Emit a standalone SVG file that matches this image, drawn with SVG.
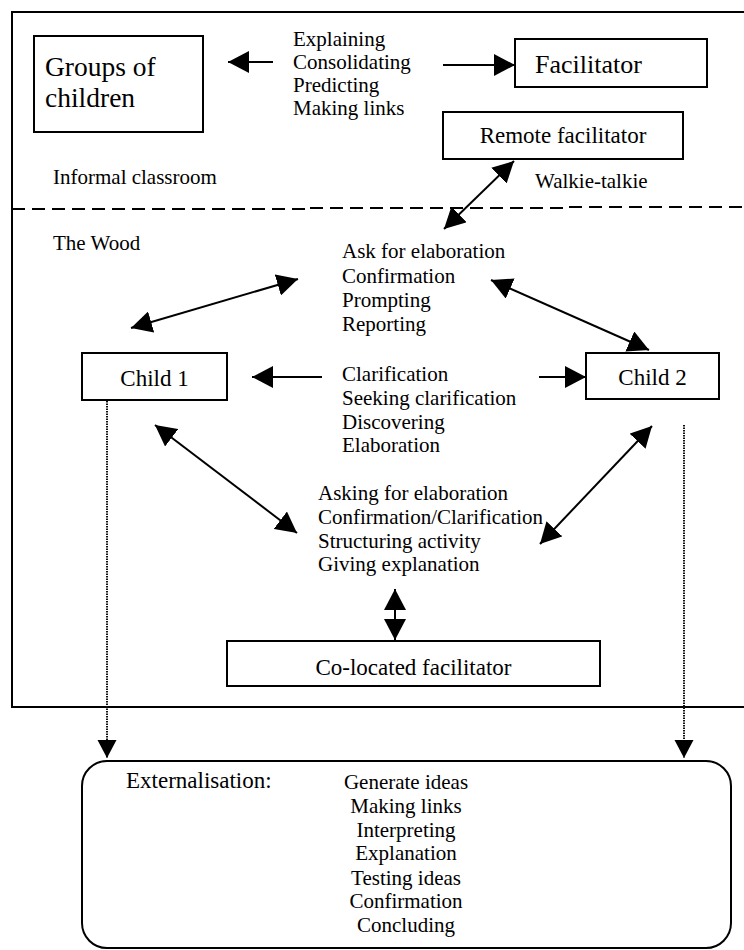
<svg xmlns="http://www.w3.org/2000/svg" width="744" height="950" viewBox="0 0 744 950">
<style>
  text { font-family: "Liberation Serif", "Times New Roman", serif; fill: #000; }
  .t21 { font-size: 21px; }
  .t23 { font-size: 23px; }
  .t26 { font-size: 26px; }
  .t28 { font-size: 27.5px; }
  .box { fill: #fff; stroke: #000; stroke-width: 2; }
  .frame { fill: none; stroke: #000; stroke-width: 2; }
  .dash { fill: none; stroke: #000; stroke-width: 2; stroke-dasharray: 13 7; }
  .arr { fill: none; stroke: #000; stroke-width: 2; }
  .one { marker-end: url(#head); }
  .two { marker-start: url(#head); marker-end: url(#head); }
  .dot { fill: none; stroke: #111; stroke-width: 2; stroke-dasharray: 1.5 1; marker-end: url(#shead); }
</style>
<defs>
  <marker id="head" markerUnits="userSpaceOnUse" markerWidth="22" markerHeight="22" refX="21" refY="11" orient="auto-start-reverse" viewBox="0 0 22 22">
    <path d="M0,0 L21,11 L0,22 z" fill="#000"/>
  </marker>
  <marker id="shead" markerUnits="userSpaceOnUse" markerWidth="20" markerHeight="20" refX="18" refY="9.5" orient="auto" viewBox="0 0 20 20">
    <path d="M0,0 L18,9.5 L0,19 z" fill="#000"/>
  </marker>
</defs>

<g id="frame">
  <path class="frame" d="M745,12 H12 V707 H745"/>
  <path class="dash" d="M12,209 H310 M310,208 H569 M569,207 H745"/>
  <text class="t21" x="53" y="184">Informal classroom</text>
  <text class="t21" x="53" y="250">The Wood</text>
</g>

<g id="groups">
  <rect class="box" x="34" y="36" width="169" height="96"/>
  <text class="t28" x="45" y="76">Groups of</text>
  <text class="t28" x="45" y="107">children</text>
</g>

<g id="facilitator">
  <rect class="box" x="515" y="39" width="192" height="48"/>
  <text class="t26" x="535" y="73">Facilitator</text>
</g>

<g id="remote">
  <rect class="box" x="443" y="112" width="240" height="47"/>
  <text class="t23" x="563" y="143" text-anchor="middle">Remote facilitator</text>
</g>

<g id="child1">
  <rect class="box" x="82" y="353" width="145" height="47"/>
  <text class="t23" x="154.5" y="386" text-anchor="middle">Child 1</text>
</g>

<g id="child2">
  <rect class="box" x="586" y="353" width="133" height="46"/>
  <text class="t23" x="652.5" y="385" text-anchor="middle">Child 2</text>
</g>

<g id="colocated">
  <rect class="box" x="227" y="641" width="373" height="45"/>
  <text class="t23" x="413.5" y="675" text-anchor="middle">Co-located facilitator</text>
</g>

<g id="externalisation">
  <rect class="box" x="82" y="761" width="649" height="187" rx="25" ry="25"/>
  <text class="t23" x="126" y="788">Externalisation:</text>
  <g class="t21" text-anchor="middle">
    <text x="406" y="789">Generate ideas</text>
    <text x="406" y="813">Making links</text>
    <text x="406" y="837">Interpreting</text>
    <text x="406" y="860">Explanation</text>
    <text x="406" y="885">Testing ideas</text>
    <text x="406" y="908">Confirmation</text>
    <text x="406" y="932">Concluding</text>
  </g>
</g>

<g id="labels" class="t21">
  <text x="293" y="46">Explaining</text>
  <text x="293" y="69">Consolidating</text>
  <text x="293" y="92">Predicting</text>
  <text x="293" y="115">Making links</text>
  <text x="535" y="188">Walkie-talkie</text>
  <text x="342" y="258">Ask for elaboration</text>
  <text x="342" y="283">Confirmation</text>
  <text x="342" y="307">Prompting</text>
  <text x="342" y="331">Reporting</text>
  <text x="342" y="381">Clarification</text>
  <text x="342" y="405">Seeking clarification</text>
  <text x="342" y="429">Discovering</text>
  <text x="342" y="452">Elaboration</text>
  <text x="318" y="500">Asking for elaboration</text>
  <text x="318" y="524">Confirmation/Clarification</text>
  <text x="318" y="548">Structuring activity</text>
  <text x="318" y="571">Giving explanation</text>
</g>

<g id="connectors">
  <line class="arr one" x1="273" y1="62" x2="228" y2="62"/>
  <line class="arr one" x1="443" y1="65" x2="515" y2="65"/>
  <line class="arr two" x1="514" y1="161" x2="444" y2="229"/>
  <line class="arr two" x1="131" y1="328" x2="298" y2="279"/>
  <line class="arr two" x1="491" y1="280" x2="649" y2="350"/>
  <line class="arr one" x1="322" y1="377" x2="252" y2="377"/>
  <line class="arr one" x1="539" y1="377" x2="586" y2="377"/>
  <line class="arr two" x1="155" y1="425" x2="297" y2="533"/>
  <line class="arr two" x1="652" y1="426" x2="540" y2="544"/>
  <line class="arr two" x1="395" y1="589" x2="395" y2="640"/>
  <line class="dot" x1="107" y1="401" x2="107" y2="758"/>
  <line class="dot" x1="684" y1="425" x2="684" y2="758"/>
</g>
</svg>
